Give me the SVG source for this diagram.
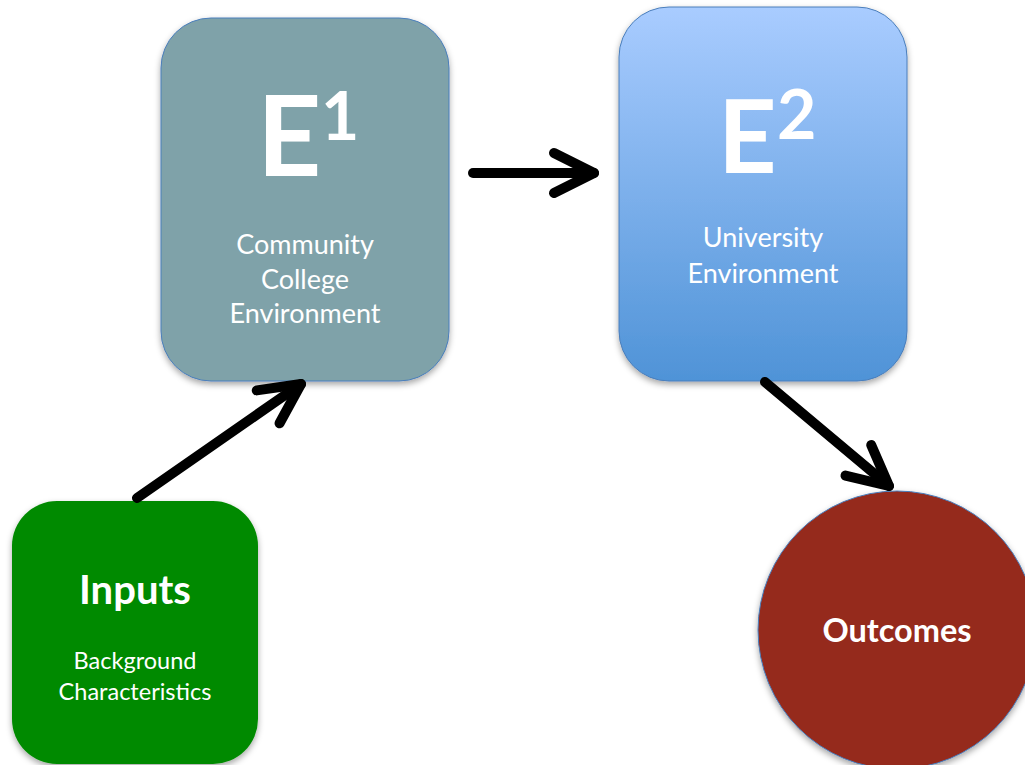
<svg xmlns="http://www.w3.org/2000/svg" width="1025" height="765" viewBox="0 0 1025 765">
<style>
.lbl{font-family:Lato,"Open Sans","Liberation Sans",sans-serif;fill:#ffffff;text-anchor:middle}
.big{font-family:Lato,"Open Sans","Liberation Sans",sans-serif;fill:#ffffff;font-weight:bold}
.node{stroke:#4A7EBB;stroke-width:1}
.conn{fill:none;stroke:#000;stroke-width:10;stroke-linecap:round;stroke-linejoin:round}
</style>
<defs>
<linearGradient id="gE2" x1="0" y1="0" x2="0" y2="1">
<stop offset="0" stop-color="#A9CCFF"/>
<stop offset="1" stop-color="#4F93D7"/>
</linearGradient>
<filter id="sh" x="-10%" y="-10%" width="120%" height="125%">
<feDropShadow dx="0" dy="3" stdDeviation="3" flood-color="#000" flood-opacity="0.35"/>
</filter>
<marker id="chev" markerUnits="userSpaceOnUse" markerWidth="60" markerHeight="60" refX="0" refY="0" orient="auto" viewBox="-50 -30 60 60" overflow="visible">
<path d="M-40,-20 L0,0 L-40,20" fill="none" stroke="#000" stroke-width="10" stroke-linecap="round" stroke-linejoin="round"/>
</marker>
</defs>
<rect width="1025" height="765" fill="#ffffff"/>

<g id="e1">
<rect class="node" x="161" y="18" width="288" height="363" rx="50" ry="50" fill="#7FA2A9" filter="url(#sh)"/>
<text class="big" x="257" y="176" font-size="112">E</text>
<text class="big" x="321" y="140" font-size="66">1</text>
<text class="lbl" font-size="27"><tspan x="305" y="254">Community</tspan><tspan x="305" y="289">College</tspan><tspan x="305" y="323">Environment</tspan></text>
</g>

<g id="e2">
<rect class="node" x="619" y="7" width="288" height="374" rx="50" ry="50" fill="url(#gE2)" filter="url(#sh)"/>
<text class="big" x="718" y="173" font-size="102">E</text>
<text class="big" x="777" y="139" font-size="68">2</text>
<text class="lbl" font-size="27"><tspan x="763" y="247">University</tspan><tspan x="763" y="283">Environment</tspan></text>
</g>

<g id="inputs">
<rect x="12" y="501" width="246" height="263" rx="45" ry="45" fill="#008A00" filter="url(#sh)"/>
<text class="lbl" font-size="40" font-weight="bold" x="135" y="604">Inputs</text>
<text class="lbl" font-size="23.5"><tspan x="135" y="669">Background</tspan><tspan x="135" y="700">Characteristics</tspan></text>
</g>

<g id="outcomes">
<circle class="node" cx="897" cy="630" r="139" fill="#95291E" filter="url(#sh)"/>
<text class="lbl" font-size="32.5" font-weight="bold" x="897" y="642">Outcomes</text>
</g>

<g id="connectors">
<path class="conn" d="M473,173 L594,173" marker-end="url(#chev)"/>
<path class="conn" d="M137,498 L301,384" marker-end="url(#chev)"/>
<path class="conn" d="M765,382 L889,486" marker-end="url(#chev)"/>
</g>
</svg>
